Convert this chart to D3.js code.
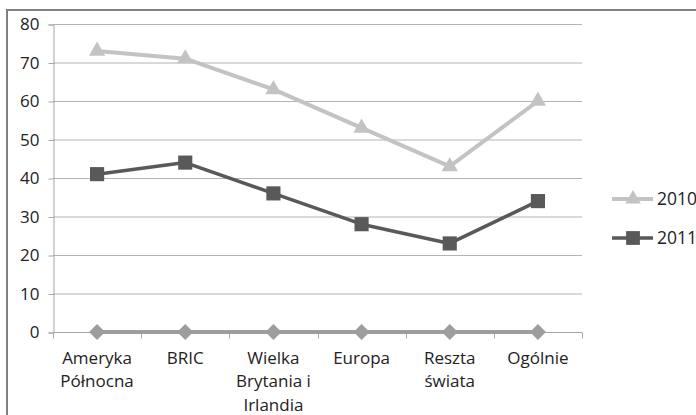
<!DOCTYPE html>
<html><head><meta charset="utf-8">
<script src="https://cdn.jsdelivr.net/npm/d3@7"></script>
<style>html,body{margin:0;padding:0;background:#fff;}svg{display:block;}</style>
</head><body>
<svg id="c" width="696" height="415"></svg>
<script>
const categories = [["Ameryka","Północna"],["BRIC"],["Wielka","Brytania i","Irlandia"],["Europa"],["Reszta","świata"],["Ogólnie"]];
const series2010 = [73, 71, 63, 53, 43, 60];
const series2011 = [41, 44, 36, 28, 23, 34];
const seriesBase = [0, 0, 0, 0, 0, 0];
const yTicks = [0, 10, 20, 30, 40, 50, 60, 70, 80];
const legendLabels = ["2010", "2011"];

(function () {
const svg = d3.select("#c");
const font = "'Open Sans', sans-serif";
const pLeft = 53, pRight = 582, pTop = 24, pBottom = 332;

// outer border
svg.append("rect").attr("x", 7).attr("y", 10).attr("width", 700).attr("height", 420)
  .attr("fill", "none").attr("stroke", "#808080").attr("stroke-width", 2);

const x = d3.scaleBand().domain(d3.range(categories.length)).range([pLeft, pRight]);
const y = d3.scaleLinear().domain([0, 80]).range([pBottom, pTop]);

// gridlines
svg.append("g").selectAll("line").data(yTicks.filter(d => d > 0)).join("line")
  .attr("x1", pLeft).attr("x2", pRight).attr("y1", d => y(d) + 0.5).attr("y2", d => y(d) + 0.5)
  .attr("stroke", "#b3b3b3").attr("stroke-width", 1);

// y axis
const yAxis = d3.axisLeft(y).tickValues(yTicks).tickSize(5).tickPadding(9);
const gy = svg.append("g").attr("transform", `translate(${pLeft + 0.5},0.5)`).call(yAxis);
gy.select(".domain").attr("stroke", "#a6a6a6");
gy.selectAll(".tick line").attr("stroke", "#a6a6a6");
gy.selectAll(".tick text").attr("font-family", font).attr("font-size", 17).attr("fill", "#222");

// x axis
const gx = svg.append("g").attr("transform", `translate(0,${pBottom + 0.5})`);
gx.append("line").attr("x1", pLeft).attr("x2", pRight).attr("stroke", "#a6a6a6");
const bounds = d3.range(categories.length + 1).map(i => i < categories.length ? x(i) : x(i - 1) + x.bandwidth());
gx.selectAll("line.t").data(bounds).join("line").attr("class", "t")
  .attr("x1", d => Math.round(d) + 0.5).attr("x2", d => Math.round(d) + 0.5).attr("y1", 0).attr("y2", 6)
  .attr("stroke", "#a6a6a6");
const lbl = gx.selectAll("text").data(categories).join("text")
  .attr("x", (d, i) => x(i) + x.bandwidth() / 2).attr("y", 31)
  .attr("text-anchor", "middle").attr("font-family", font).attr("font-size", 17).attr("fill", "#222");
lbl.selectAll("tspan").data(d => d).join("tspan")
  .attr("x", function () { return d3.select(this.parentNode).attr("x"); })
  .attr("dy", (d, i) => i === 0 ? 0 : 23.5).text(d => d);

const cx = i => x(i) + x.bandwidth() / 2;
const line = d3.line().x((d, i) => cx(i)).y(d => y(d));

function drawSeries(data, color, width, symType, size, rot) {
  svg.append("path").datum(data).attr("d", line).attr("fill", "none")
    .attr("stroke", color).attr("stroke-width", width).attr("stroke-linejoin", "round");
  svg.append("g").selectAll("path").data(data).join("path")
    .attr("d", d3.symbol().type(symType).size(size))
    .attr("transform", (d, i) => `translate(${cx(i)},${y(d)}) rotate(${rot || 0})`)
    .attr("fill", color);
}
drawSeries(seriesBase, "#9d9d9d", 4, d3.symbolSquare, 128, 45);
drawSeries(series2010, "#c3c3c3", 4, d3.symbolTriangle, 115);
drawSeries(series2011, "#595959", 3.5, d3.symbolSquare, 200);

// legend
const legColors = ["#c3c3c3", "#595959"];
const legSyms = [d3.symbolTriangle, d3.symbolSquare];
const legSizes = [105, 190];
const legY = [199, 238];
legendLabels.forEach((t, i) => {
  svg.append("line").attr("x1", 612).attr("x2", 653).attr("y1", legY[i]).attr("y2", legY[i])
    .attr("stroke", legColors[i]).attr("stroke-width", i === 0 ? 4 : 3.5);
  svg.append("path").attr("d", d3.symbol().type(legSyms[i]).size(legSizes[i]))
    .attr("transform", `translate(633,${legY[i]})`).attr("fill", legColors[i]);
  svg.append("text").attr("x", 657).attr("y", legY[i] + 6).attr("font-family", font)
    .attr("font-size", 17.5).attr("fill", "#222").text(t);
});
})();
</script>
</body></html>
